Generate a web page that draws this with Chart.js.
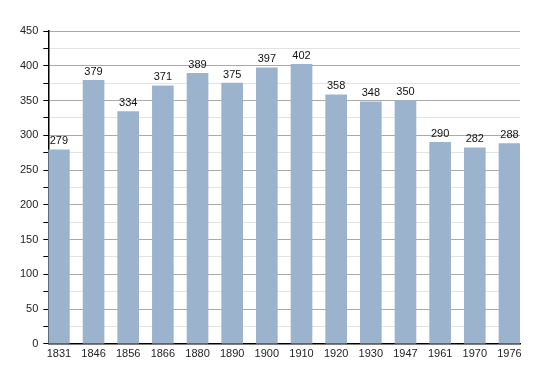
<!DOCTYPE html>
<html>
<head>
<meta charset="utf-8">
<script src="https://cdn.jsdelivr.net/npm/chart.js@4/dist/chart.umd.min.js"></script>
<style>
  html, body { margin: 0; padding: 0; background: #fff; }
  #wrap { width: 550px; height: 373px; }
</style>
</head>
<body>
<div id="wrap"><canvas id="popChart"></canvas></div>
<script>
// Données de population
const years = ['1831', '1846', '1856', '1866', '1880', '1890', '1900', '1910', '1920', '1930', '1947', '1961', '1970', '1976'];
const population = [279, 379, 334, 371, 389, 375, 397, 402, 358, 348, 350, 290, 282, 288];
const yTicks = [0, 50, 100, 150, 200, 250, 300, 350, 400, 450];

// Étiquettes au-dessus des barres
const valueLabels = {
    id: 'valueLabels',
    afterDatasetsDraw(chart) {
        const ctx = chart.ctx;
        const meta = chart.getDatasetMeta(0);
        ctx.save();
        ctx.font = '11px "Liberation Sans", Arial, sans-serif';
        ctx.fillStyle = '#111';
        ctx.textAlign = 'center';
        ctx.textBaseline = 'bottom';
        meta.data.forEach((bar, i) => {
            ctx.fillText(population[i], bar.x, bar.y - 3);
        });
        ctx.restore();
    }
};

const halfBar = 0.304; // demi-largeur de barre en unités de catégorie

new Chart(document.getElementById('popChart'), {
    type: 'bar',
    data: {
        datasets: [{
            data: population.map((v, i) => ({ x: i, y: v })),
            backgroundColor: '#9bb3cd',
            barThickness: 21
        }]
    },
    options: {
        responsive: true,
        maintainAspectRatio: false,
        animation: false,
        layout: { padding: { top: 31, left: 15, right: 30, bottom: 8 } },
        plugins: {
            legend: { display: false },
            tooltip: { enabled: false }
        },
        scales: {
            x: {
                type: 'linear',
                offset: false,
                min: -halfBar,
                max: years.length - 1 + halfBar,
                afterBuildTicks: scale => { scale.ticks = years.map((_, i) => ({ value: i })); },
                grid: { display: false, drawTicks: false },
                border: { color: '#000', width: 1.5 },
                ticks: {
                    padding: 4,
                    autoSkip: false,
                    maxRotation: 0,
                    color: '#222',
                    font: { family: '"Liberation Sans", Arial, sans-serif', size: 11 },
                    callback: v => years[v]
                }
            },
            y: {
                min: 0,
                max: 450,
                afterBuildTicks: scale => {
                    const t = [];
                    for (let v = 0; v <= 450; v += 25) t.push({ value: v });
                    scale.ticks = t;
                },
                grid: {
                    color: c => (c.tick && c.tick.value % 50 === 0) ? '#aaaaaa' : '#e2e2e2',
                    tickColor: '#000',
                    tickLength: 5
                },
                border: { color: '#000', width: 1.5 },
                ticks: {
                    padding: 5,
                    color: '#222',
                    font: { family: '"Liberation Sans", Arial, sans-serif', size: 11 },
                    callback: v => yTicks.includes(v) ? v : ''
                }
            }
        }
    },
    plugins: [valueLabels]
});
</script>
</body>
</html>
